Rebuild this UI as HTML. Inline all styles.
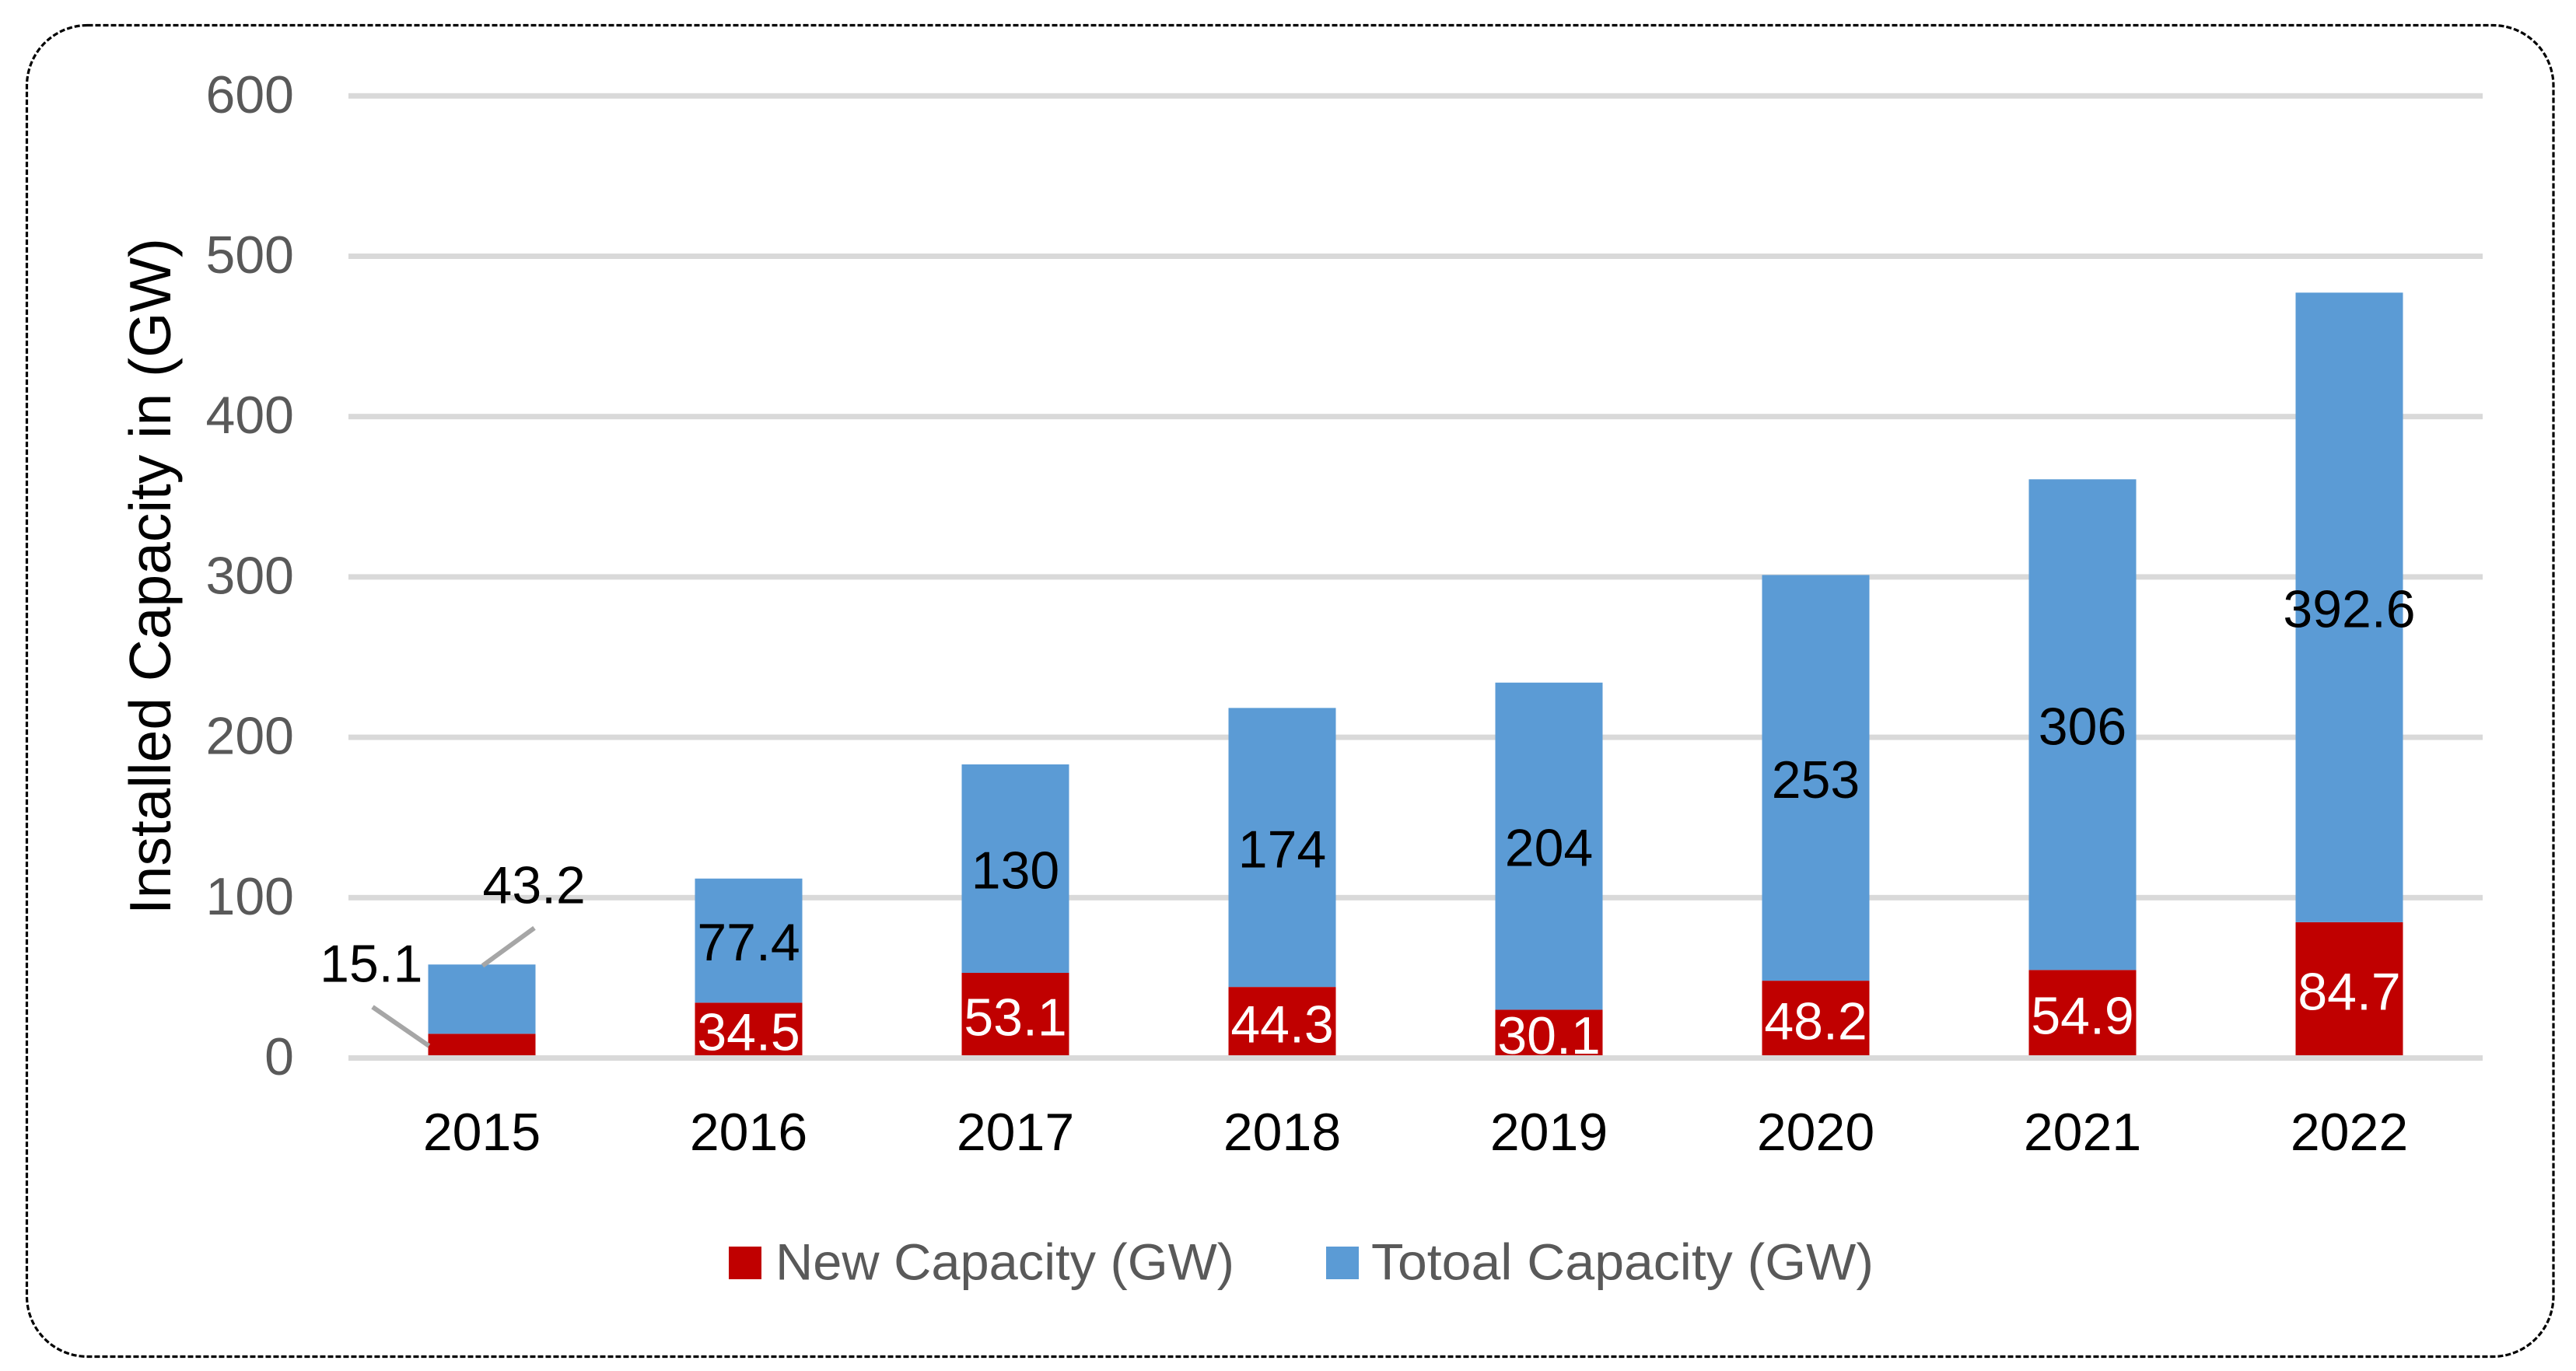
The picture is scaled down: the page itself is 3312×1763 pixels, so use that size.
<!DOCTYPE html>
<html lang="en">
<head>
<meta charset="utf-8">
<title>Installed Capacity Chart</title>
<style>
  html, body { margin: 0; padding: 0; background: #ffffff; }
  body { width: 3312px; height: 1763px; overflow: hidden; }
  svg { display: block; }
  text { font-family: "Liberation Sans", sans-serif; }
</style>
</head>
<body>
<svg id="chart" xmlns="http://www.w3.org/2000/svg" width="3312" height="1763" viewBox="0 0 3312 1763">
  <rect x="0" y="0" width="3312" height="1763" fill="#ffffff"/>
  <rect x="34.5" y="32.5" width="3248.5" height="1712" rx="78" ry="78" fill="#ffffff" stroke="#000000" stroke-width="3.2" stroke-dasharray="7 3"/>
  <g id="grid"></g>
  <g id="bars"></g>
  <g id="axis"></g>
  <g id="labels"></g>
  <text transform="translate(219 1176) rotate(-90)" font-size="75" fill="#000000" textLength="870" lengthAdjust="spacingAndGlyphs">Installed Capacity in (GW)</text>
  <g>
    <g>
      <rect x="937" y="1603" width="42" height="42" fill="#c00000"/>
      <text x="997" y="1645.5" font-size="66" fill="#595959" textLength="590" lengthAdjust="spacingAndGlyphs">New Capacity (GW)</text>
    </g>
    <g>
      <rect x="1705" y="1603" width="42" height="42" fill="#5b9bd5"/>
      <text x="1763" y="1645.5" font-size="66" fill="#595959" textLength="646" lengthAdjust="spacingAndGlyphs">Totoal Capacity (GW)</text>
    </g>
  </g>
</svg>
<script>
const categories = ["2015", "2016", "2017", "2018", "2019", "2020", "2021", "2022"];
const newCapacity = [15.1, 34.5, 53.1, 44.3, 30.1, 48.2, 54.9, 84.7];
const totalCapacity = [43.2, 77.4, 130, 174, 204, 253, 306, 392.6];
const yTicks = [0, 100, 200, 300, 400, 500, 600];

const SVG_NS = "http://www.w3.org/2000/svg";
const PLOT_LEFT = 448;
const PLOT_RIGHT = 3192;
const Y_ZERO = 1360.5;
const PX_PER_UNIT = 2.062;
const BAR_WIDTH = 138;
const LABEL_SIZE = 68;
const LABEL_DROP = 25.5;

function xCenter(i) {
  return PLOT_LEFT + (PLOT_RIGHT - PLOT_LEFT) / categories.length * (i + 0.5);
}
function yPos(v) {
  return Y_ZERO - v * PX_PER_UNIT;
}
function make(tag, parentId) {
  const el = document.createElementNS(SVG_NS, tag);
  document.getElementById(parentId).appendChild(el);
  return el;
}
function styleText(el, x, y, anchor, size, fill, content) {
  el.setAttribute("x", x);
  el.setAttribute("y", y);
  el.setAttribute("text-anchor", anchor);
  el.setAttribute("font-size", size);
  el.setAttribute("fill", fill);
  el.textContent = content;
}
function styleRect(el, x, y, w, h, fill) {
  el.setAttribute("x", x);
  el.setAttribute("y", y);
  el.setAttribute("width", w);
  el.setAttribute("height", h);
  el.setAttribute("fill", fill);
}
function styleLeader(el, x1, y1, x2, y2) {
  el.setAttribute("x1", x1);
  el.setAttribute("y1", y1);
  el.setAttribute("x2", x2);
  el.setAttribute("y2", y2);
  el.setAttribute("stroke", "#a6a6a6");
  el.setAttribute("stroke-width", "6");
}

yTicks.forEach(function (t) {
  const y = yPos(t);
  const parent = t === 0 ? "axis" : "grid";
  const line = make("rect", parent);
  
  
  styleRect(line, PLOT_LEFT, y - 3.5, PLOT_RIGHT - PLOT_LEFT, 7, "#d9d9d9");
  const label = make("text", "axis");
  
  
  styleText(label, 378, y + 21.5, "end", LABEL_SIZE, "#595959", String(t));
});

categories.forEach(function (c, i) {
  const cx = xCenter(i);
  const newTop = yPos(newCapacity[i]);
  const stackTop = yPos(newCapacity[i] + totalCapacity[i]);

  const redBar = make("rect", "bars");
  
  
  styleRect(redBar, cx - BAR_WIDTH / 2, newTop, BAR_WIDTH, Y_ZERO - newTop, "#c00000");

  const blueBar = make("rect", "bars");
  
  
  styleRect(blueBar, cx - BAR_WIDTH / 2, stackTop, BAR_WIDTH, newTop - stackTop, "#5b9bd5");

  const tick = make("text", "axis");
  
  
  styleText(tick, cx, 1479, "middle", LABEL_SIZE, "#000000", c);

  const newLabel = make("text", "labels");
  
  
  const totalLabel = make("text", "labels");
  
  

  if (i === 0) {
    /* The first bar is too short for inside labels: they sit outside with leader lines. */
    styleText(newLabel, cx - 76, newTop - 67, "end", LABEL_SIZE, "#000000", String(newCapacity[i]));
    styleText(totalLabel, cx + 1, stackTop - 79, "start", LABEL_SIZE, "#000000", String(totalCapacity[i]));

    const newLeader = make("line", "labels");
    
    
    styleLeader(newLeader, cx - 140.5, newTop - 34.5, cx - 68, newTop + 15.5);

    const totalLeader = make("line", "labels");
    
    
    styleLeader(totalLeader, cx + 67.5, stackTop - 47, cx + 1, stackTop + 1.5);
  } else {
    const newMid = yPos(newCapacity[i] / 2);
    const totalMid = yPos(newCapacity[i] + totalCapacity[i] / 2);
    styleText(newLabel, cx, newMid + LABEL_DROP, "middle", LABEL_SIZE, "#ffffff", String(newCapacity[i]));
    styleText(totalLabel, cx, totalMid + LABEL_DROP, "middle", LABEL_SIZE, "#000000", String(totalCapacity[i]));
  }
});
</script>
</body>
</html>
